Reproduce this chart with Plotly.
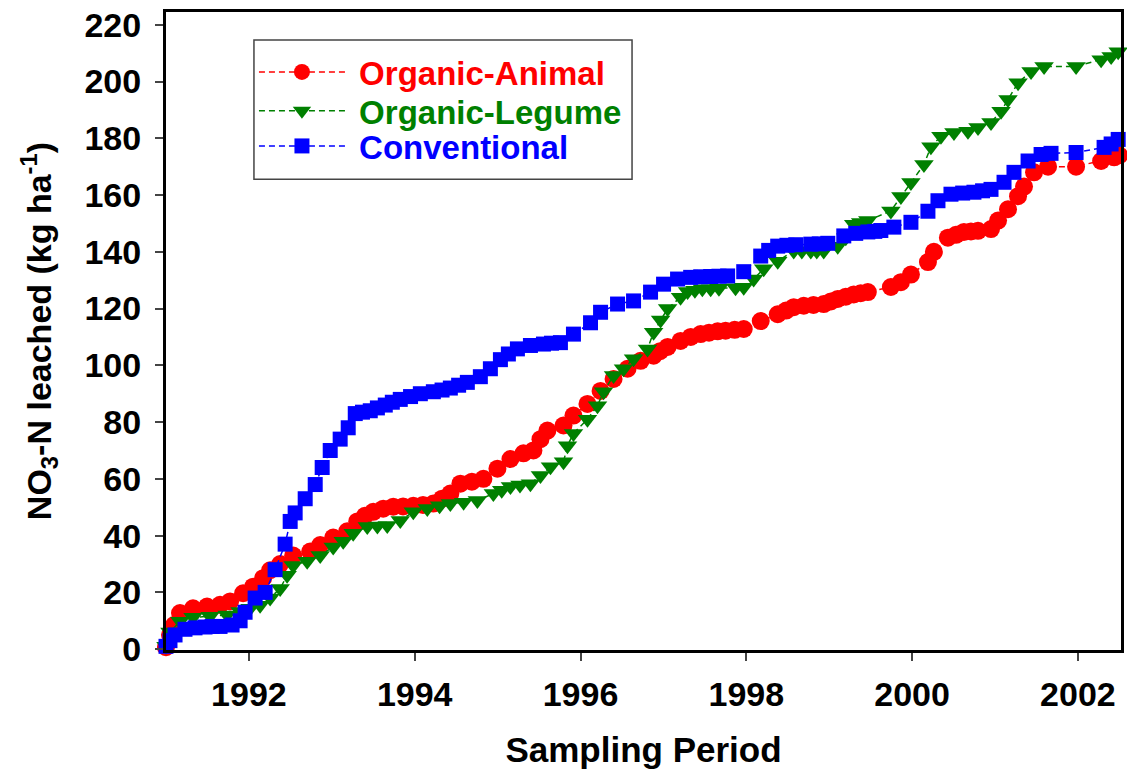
import plotly.graph_objects as go

# Sampling dates (decimal years) and cumulative NO3-N leached (kg/ha)
animal_t = [1991.000, 1991.048, 1991.097, 1991.169, 1991.326, 1991.495, 1991.652, 1991.773, 1991.930,
            1992.051, 1992.171, 1992.256, 1992.377, 1992.534, 1992.739, 1992.860, 1993.017, 1993.186,
            1993.307, 1993.500, 1993.741, 1993.983, 1994.225, 1994.430, 1994.551, 1994.829, 1994.998,
            1995.155, 1995.312, 1995.432, 1995.517, 1995.601, 1995.795, 1995.915, 1996.084, 1996.242,
            1996.399, 1996.568, 1996.725, 1996.882, 1997.051, 1997.207, 1997.449, 1997.654, 1997.860,
            1997.969, 1998.174, 1998.379, 1998.572, 1998.693, 1998.934, 1999.103, 1999.296, 1999.466,
            1999.744, 1999.865, 1999.986, 2000.191, 2000.263, 2000.432, 2000.625, 2000.795, 2000.952,
            2001.037, 2001.157, 2001.278, 2001.350, 2001.471, 2001.640, 2001.978, 2002.280, 2002.437,
            2002.498,
            1993.400, 1993.620, 1993.860, 1994.100, 1994.330, 1994.690, 1996.960, 1997.330, 1997.550,
            1997.750, 1998.480, 1998.810, 1999.020, 1999.200, 1999.380, 2000.530, 2000.710]
animal_v = [0.7, 5.0, 8.5, 12.7, 14.4, 15.0, 15.6, 16.8, 19.7,
            22.0, 25.0, 27.8, 30.0, 33.0, 34.4, 36.7, 39.3, 41.5,
            45.0, 48.4, 50.2, 50.5, 51.3, 54.8, 58.3, 60.0, 63.6,
            67.0, 69.0, 70.0, 74.0, 77.0, 78.8, 82.3, 86.4, 91.0,
            95.2, 98.8, 101.6, 103.4, 106.5, 108.6, 111.0, 112.0, 112.5,
            112.8, 115.6, 118.0, 120.5, 121.0, 121.6, 123.4, 125.0, 125.8,
            127.6, 129.3, 132.0, 136.4, 140.0, 145.0, 147.0, 147.4, 148.0,
            151.0, 155.0, 159.6, 163.0, 168.0, 170.0, 170.0, 172.0, 173.3,
            174.0,
            47.0, 49.5, 50.3, 50.8, 53.0, 59.0, 105.0, 110.0, 111.5,
            112.2, 119.3, 121.3, 122.5, 124.2, 125.4, 146.0, 147.2]

legume_t = [1991.000, 1991.048, 1991.169, 1991.326, 1991.531, 1991.737, 1991.894, 1992.014, 1992.135,
            1992.256, 1992.377, 1992.461, 1992.534, 1992.703, 1992.860, 1993.017, 1993.138, 1993.258,
            1993.428, 1993.669, 1993.826, 1993.983, 1994.152, 1994.430, 1994.756, 1994.949, 1995.155,
            1995.396, 1995.517, 1995.638, 1995.795, 1995.843, 1995.915, 1996.084, 1996.205, 1996.278,
            1996.399, 1996.519, 1996.640, 1996.809, 1996.882, 1996.966, 1997.051, 1997.207, 1997.292,
            1997.570, 1997.969, 1998.089, 1998.210, 1998.379, 1998.572, 1998.778, 1998.934, 1999.103,
            1999.296, 1999.466, 1999.744, 1999.865, 1999.986, 2000.143, 2000.227, 2000.348, 2000.505,
            2000.674, 2000.795, 2000.952, 2001.073, 2001.157, 2001.278, 2001.435, 2001.592, 2001.978,
            2002.280, 2002.401, 2002.486,
            1993.550, 1994.300, 1994.590, 1995.050, 1995.270, 1997.380, 1997.470, 1997.670, 1997.870,
            1998.670, 1998.850, 1999.200, 1999.380]
legume_v = [1.0, 6.0, 9.8, 11.2, 11.6, 12.0, 13.3, 14.4, 15.5,
            18.0, 21.4, 26.0, 29.5, 31.0, 33.0, 36.0, 38.0, 40.8,
            43.2, 43.6, 45.3, 48.4, 49.6, 51.3, 52.4, 54.8, 57.3,
            58.3, 61.2, 64.3, 66.0, 71.7, 76.0, 81.0, 85.8, 90.7,
            96.4, 98.8, 102.3, 105.8, 111.7, 116.0, 120.0, 124.0, 126.0,
            127.0, 127.5, 130.4, 134.0, 136.7, 140.3, 140.3, 140.3, 142.0,
            149.7, 151.0, 154.4, 159.5, 164.4, 170.8, 177.0, 180.7, 182.0,
            182.5, 183.8, 185.6, 189.5, 193.7, 199.6, 203.5, 205.3, 205.3,
            207.7, 208.8, 210.5,
            43.4, 50.5, 51.8, 56.0, 57.8, 126.5, 127.0, 127.2, 127.3,
            140.3, 140.3, 145.0, 150.3]

conv_t = [1991.000, 1991.048, 1991.109, 1991.229, 1991.350, 1991.471, 1991.556, 1991.652, 1991.797,
          1991.894, 1991.954, 1992.075, 1992.196, 1992.316, 1992.437, 1992.498, 1992.558, 1992.679,
          1992.800, 1992.884, 1992.981, 1993.101, 1993.198, 1993.283, 1993.464, 1993.645, 1993.826,
          1994.068, 1994.225, 1994.430, 1994.635, 1994.792, 1994.913, 1995.034, 1995.239, 1995.396,
          1995.553, 1995.758, 1995.915, 1996.121, 1996.242, 1996.447, 1996.640, 1996.845, 1997.002,
          1997.171, 1997.329, 1997.570, 1997.775, 1997.969, 1998.174, 1998.379, 1998.597, 1998.778,
          1998.983, 1999.176, 1999.466, 1999.623, 1999.780, 1999.986, 2000.191, 2000.312, 2000.469,
          2000.746, 2000.952, 2001.109, 2001.229, 2001.399, 2001.556, 2001.676, 2001.978, 2002.316,
          2002.401, 2002.486,
          1993.370, 1993.550, 1993.730, 1993.950, 1994.330, 1994.530, 1995.130, 1995.650, 1997.450,
          1997.670, 1998.270, 1998.490, 1998.880, 1999.320, 1999.550, 2000.610, 2000.850]
conv_v = [1.0, 3.0, 5.0, 7.0, 7.5, 7.8, 8.0, 8.0, 8.5,
          10.0, 13.0, 18.0, 20.0, 28.0, 37.0, 45.0, 48.0, 53.0,
          58.0, 64.0, 70.0, 74.0, 78.0, 83.0, 84.0, 86.0, 88.0,
          90.0, 90.7, 92.0, 94.0, 96.0, 98.8, 102.0, 105.8, 107.0,
          107.5, 108.0, 111.0, 115.0, 118.7, 121.6, 122.7, 125.8, 128.6,
          130.4, 131.0, 131.3, 131.5, 133.0, 138.5, 142.0, 142.5, 142.7,
          143.0, 145.6, 147.0, 147.5, 148.7, 150.4, 154.3, 158.0, 160.3,
          161.0, 162.0, 164.5, 168.0, 172.0, 174.3, 174.7, 175.0, 176.8,
          178.0, 179.6,
          83.5, 85.0, 87.0, 89.0, 91.3, 93.0, 104.0, 107.8, 131.2,
          131.4, 140.5, 142.3, 142.8, 146.5, 147.2, 160.7, 161.5]

x_ticks = [1992, 1994, 1996, 1998, 2000, 2002]
y_ticks = list(range(0, 221, 20))

FONT = "Liberation Sans, Arial, sans-serif"

W, H = 1127, 778
M = dict(l=166, r=6, t=12, b=128)

series = [
    ("Organic-Animal", animal_t, animal_v, "#FF0000", "circle", 18, "legend", 0.906),
    ("Organic-Legume", legume_t, legume_v, "#008000", "triangle-down", 17, "legend2", 0.845),
    ("Conventional", conv_t, conv_v, "#0000FF", "square", 15, "legend3", 0.790),
]

fig = go.Figure()
legend_layouts = {}
for name, t, v, col, sym, sz, leg, ly in series:
    pts = sorted(zip(t, v))
    fig.add_trace(go.Scatter(
        x=[p[0] for p in pts], y=[p[1] for p in pts], mode="lines+markers",
        name=f"<span style='color:{col}'><b>&nbsp;{name}</b></span>",
        legend=leg,
        line=dict(color=col, width=1.5, dash="6px,4px"),
        marker=dict(symbol=sym, size=sz, color=col, line=dict(width=0)),
        cliponaxis=False,
    ))
    legend_layouts[leg] = dict(
        x=0.0921, y=ly, xanchor="left", yanchor="middle",
        bgcolor="rgba(0,0,0,0)", borderwidth=0,
        font=dict(family=FONT, size=33, color="black"),
        itemwidth=86,
    )

fig.update_layout(
    width=W, height=H,
    margin=dict(**M, autoexpand=False),
    paper_bgcolor="white", plot_bgcolor="white",
    font=dict(family=FONT, color="black"),
    showlegend=True,
    **legend_layouts,
    shapes=[dict(
        type="rect", xref="paper", yref="paper",
        x0=0.0921, x1=0.488, y0=0.738, y1=0.956,
        line=dict(color="#444", width=1.5), fillcolor="white", layer="below",
    )],
    xaxis=dict(
        range=[1991.0, 2002.52], automargin=False,
        tickmode="array", tickvals=x_ticks, ticktext=[str(v) for v in x_ticks],
        ticks="outside", ticklen=8, tickwidth=1.5, tickcolor="#444",
        ticklabelstandoff=4, ticklabeloverflow="allow",
        showline=True, linecolor="black", linewidth=3, mirror=True,
        showgrid=False, zeroline=False,
        tickfont=dict(family=FONT, size=34, weight="bold"),
        title=dict(text="<b>Sampling Period</b>", font=dict(family=FONT, size=35), standoff=26),
    ),
    yaxis=dict(
        range=[-0.3, 224.5], automargin=False,
        tickmode="array", tickvals=y_ticks, ticktext=[str(v) for v in y_ticks],
        ticks="outside", ticklen=8, tickwidth=1.5, tickcolor="#444",
        ticklabelstandoff=7, ticklabeloverflow="allow",
        showline=True, linecolor="black", linewidth=3, mirror=True,
        showgrid=False, zeroline=False,
        tickfont=dict(family=FONT, size=34, weight="bold"),
        title=dict(text="<b>NO<sub>3</sub>-N leached (kg ha<sup>-1</sup>)</b>",
                   font=dict(family=FONT, size=34), standoff=23),
    ),
)

# remove the browser's default 8px body margin so the figure fills the window exactly
fig.write_html("out.html", config={"displayModeBar": False},
               post_script="document.body.style.margin='0';")
